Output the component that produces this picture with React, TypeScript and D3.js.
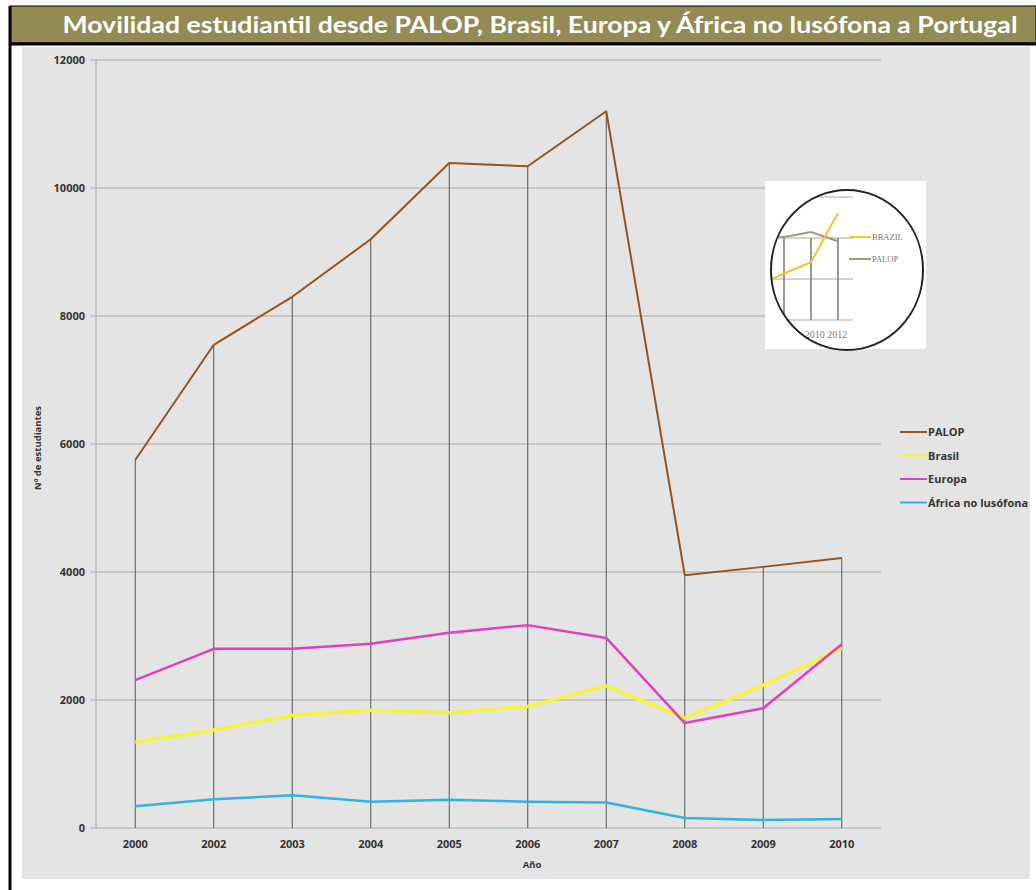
import React, { useRef, useEffect } from 'react';
import * as d3 from 'd3';

const years = ['2000', '2002', '2003', '2004', '2005', '2006', '2007', '2008', '2009', '2010'];
const palop = [5750, 7550, 8300, 9200, 10390, 10340, 11200, 3950, 4080, 4220];
const brasil = [1340, 1530, 1760, 1840, 1800, 1900, 2220, 1720, 2230, 2810];
const europa = [2310, 2800, 2800, 2880, 3050, 3170, 2970, 1640, 1870, 2870];
const africa = [340, 450, 510, 410, 440, 410, 400, 155, 125, 140];
const yTicks = [0, 2000, 4000, 6000, 8000, 10000, 12000];

const seriesNames = ['PALOP', 'Brasil', 'Europa', 'África no lusófona'];

// inset picture (a pasted thumbnail in the original)
const insetGridYears = [2010, 2011, 2012];
const insetBrazilX = [2009.5, 2011, 2012];
const insetBrazil = [33, 47, 87];
const insetPalopX = [2009.5, 2010, 2011, 2012];
const insetPalop = [68, 67.5, 71.5, 64];

const App: React.FC = () => {
  const svgRef = useRef<SVGSVGElement | null>(null);
  const width = 1036;
  const height = 890;

  useEffect(() => {
    if (!svgRef.current) return;
    const svg = d3.select(svgRef.current);
    svg.selectAll('*').remove();

    const font = '"Open Sans", "DejaVu Sans", sans-serif';
    const colors = {
      palop: '#98521c',
      brasil: '#f4f43a',
      europa: '#e23fc0',
      africa: '#31b2e2',
      grid: '#a8a8a8',
      drop: '#555',
      text: '#333',
      bg: '#e4e4e4',
      title: '#948a54',
    };
    const seriesColors = [colors.palop, colors.brasil, colors.europa, colors.africa];
    const seriesWidths = [2, 3.5, 2.5, 2.5];

    svg.attr('width', width).attr('height', height);
    svg.append('rect').attr('width', width).attr('height', height).attr('fill', '#fff');

    // chart background
    svg.append('rect')
      .attr('x', 22).attr('y', 47)
      .attr('width', 1008).attr('height', 832)
      .attr('fill', colors.bg);

    // title bar
    svg.append('rect')
      .attr('x', 10).attr('y', 6)
      .attr('width', width - 10).attr('height', 37)
      .attr('fill', colors.title)
      .attr('stroke', '#000').attr('stroke-width', 1);
    svg.append('line')
      .attr('x1', 10).attr('x2', width)
      .attr('y1', 44).attr('y2', 44)
      .attr('stroke', '#000').attr('stroke-width', 3);
    svg.append('line')
      .attr('x1', 10).attr('x2', 10)
      .attr('y1', 6).attr('y2', height)
      .attr('stroke', '#000').attr('stroke-width', 3);
    svg.append('text')
      .attr('x', 540).attr('y', 33)
      .attr('text-anchor', 'middle')
      .attr('font-family', 'Lato, "Open Sans", sans-serif')
      .attr('font-weight', 'bold')
      .attr('font-size', 23)
      .attr('fill', '#fff')
      .attr('textLength', 955)
      .attr('lengthAdjust', 'spacingAndGlyphs')
      .text('Movilidad estudiantil desde PALOP, Brasil, Europa y África no lusófona a Portugal');

    const x = d3.scalePoint<string>().domain(years).range([96, 881]).padding(0.5);
    const y = d3.scaleLinear().domain([0, 12000]).range([828, 60]);

    const g = svg.append('g');

    // gridlines + y labels
    yTicks.forEach(t => {
      g.append('line')
        .attr('x1', 90).attr('x2', 881)
        .attr('y1', y(t)).attr('y2', y(t))
        .attr('stroke', colors.grid).attr('stroke-width', 1);
      g.append('text')
        .attr('x', 85).attr('y', y(t) + 4)
        .attr('text-anchor', 'end')
        .attr('font-family', font).attr('font-weight', 'bold')
        .attr('font-size', 11).attr('fill', colors.text)
        .text(t);
    });
    g.append('line')
      .attr('x1', 96).attr('x2', 96)
      .attr('y1', y(12000)).attr('y2', y(0))
      .attr('stroke', colors.grid);

    // drop lines
    years.forEach((yr, i) => {
      g.append('line')
        .attr('x1', x(yr)!).attr('x2', x(yr)!)
        .attr('y1', y(palop[i])).attr('y2', y(0))
        .attr('stroke', colors.drop).attr('stroke-width', 1);
      g.append('text')
        .attr('x', x(yr)!).attr('y', 848)
        .attr('text-anchor', 'middle')
        .attr('font-family', font).attr('font-weight', 'bold')
        .attr('font-size', 11).attr('fill', colors.text)
        .text(yr);
    });

    // series lines
    const line = d3.line<number>()
      .x((_, i) => x(years[i])!)
      .y(d => y(d));
    [palop, brasil, europa, africa].forEach((s, k) => {
      g.append('path')
        .attr('d', line(s)!)
        .attr('fill', 'none')
        .attr('stroke', seriesColors[k])
        .attr('stroke-width', seriesWidths[k])
        .attr('stroke-linejoin', 'round');
    });

    // axis titles
    g.append('text')
      .attr('x', 532).attr('y', 868)
      .attr('text-anchor', 'middle')
      .attr('font-family', font).attr('font-weight', 'bold')
      .attr('font-size', 9.5).attr('fill', colors.text)
      .text('Año');
    g.append('text')
      .attr('transform', 'translate(41,448) rotate(-90)')
      .attr('text-anchor', 'middle')
      .attr('font-family', font).attr('font-weight', 'bold')
      .attr('font-size', 9.5).attr('fill', colors.text)
      .text('Nº de estudiantes');

    // legend
    const legend = g.append('g').attr('transform', 'translate(900,432)');
    seriesNames.forEach((name, k) => {
      const yOff = k * 23.5;
      legend.append('line')
        .attr('x1', 0).attr('x2', 27)
        .attr('y1', yOff).attr('y2', yOff)
        .attr('stroke', seriesColors[k]).attr('stroke-width', 2);
      legend.append('text')
        .attr('x', 28).attr('y', yOff + 4)
        .attr('font-family', font).attr('font-weight', 'bold')
        .attr('font-size', 11).attr('fill', colors.text)
        .text(name);
    });

    // inset thumbnail
    const inset = svg.append('g');
    inset.append('rect')
      .attr('x', 765).attr('y', 181)
      .attr('width', 161).attr('height', 168)
      .attr('fill', '#fff');
    const clip = svg.append('defs').append('clipPath').attr('id', 'insetClip');
    clip.append('ellipse').attr('cx', 847).attr('cy', 270).attr('rx', 76).attr('ry', 80);
    const ig = inset.append('g').attr('clip-path', 'url(#insetClip)');
    const ix = d3.scaleLinear().domain([2010, 2012]).range([784, 838]);
    const iy = d3.scaleLinear().domain([0, 100]).range([320, 197]);
    [0, 33.3, 66.7, 100].forEach(t => {
      ig.append('line')
        .attr('x1', t === 100 ? 795 : 771).attr('x2', 853)
        .attr('y1', iy(t)).attr('y2', iy(t))
        .attr('stroke', '#aaa').attr('stroke-width', 1);
    });
    insetGridYears.forEach(yr => {
      ig.append('line')
        .attr('x1', ix(yr)).attr('x2', ix(yr))
        .attr('y1', iy(66.7)).attr('y2', iy(0))
        .attr('stroke', '#777').attr('stroke-width', 1.5);
    });
    const palopLine = d3.line<number>().x((_, i) => ix(insetPalopX[i])).y(d => iy(d));
    const brazilLine = d3.line<number>().x((_, i) => ix(insetBrazilX[i])).y(d => iy(d));
    ig.append('path').attr('d', palopLine(insetPalop)!)
      .attr('fill', 'none').attr('stroke', '#a09c70').attr('stroke-width', 2);
    ig.append('path').attr('d', brazilLine(insetBrazil)!)
      .attr('fill', 'none').attr('stroke', '#f4c430').attr('stroke-width', 2);
    ig.append('line').attr('x1', 849).attr('x2', 871).attr('y1', 237).attr('y2', 237)
      .attr('stroke', '#f4c430').attr('stroke-width', 2);
    ig.append('line').attr('x1', 849).attr('x2', 871).attr('y1', 259).attr('y2', 259)
      .attr('stroke', '#a09c70').attr('stroke-width', 2);
    ig.append('text').attr('x', 872).attr('y', 240)
      .attr('font-family', '"Liberation Serif", serif').attr('font-size', 8.5)
      .attr('fill', '#777').text('BRAZIL');
    ig.append('text').attr('x', 872).attr('y', 262)
      .attr('font-family', '"Liberation Serif", serif').attr('font-size', 8.5)
      .attr('fill', '#777').text('PALOP');
    ig.append('text').attr('x', 826).attr('y', 338)
      .attr('text-anchor', 'middle')
      .attr('font-family', '"Liberation Serif", serif').attr('font-size', 10)
      .attr('fill', '#777').text('2010 2012');
    inset.append('ellipse')
      .attr('cx', 847).attr('cy', 270).attr('rx', 76).attr('ry', 80)
      .attr('fill', 'none').attr('stroke', '#222').attr('stroke-width', 2);
  }, []);

  return (
    <svg ref={svgRef} style={{ position: 'absolute', left: 0, top: 0, display: 'block' }}></svg>
  );
};

export default App;
